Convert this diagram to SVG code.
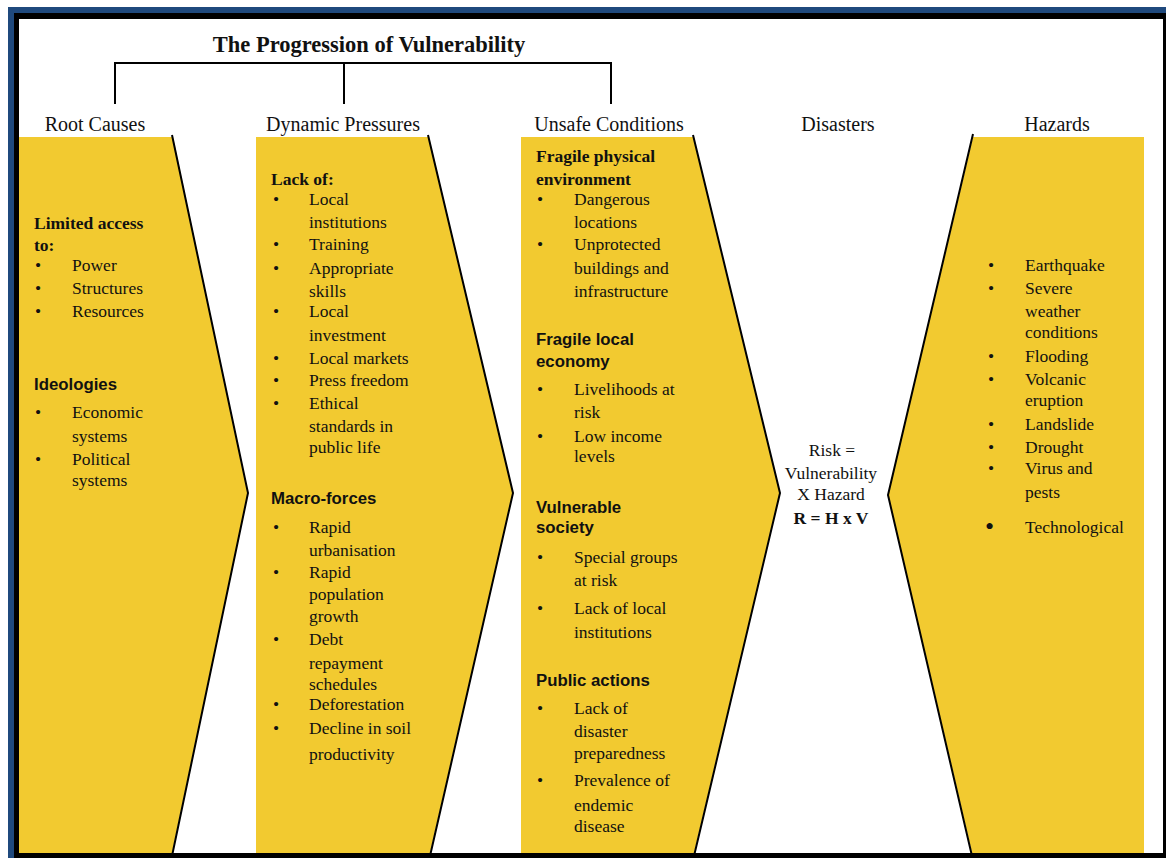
<svg xmlns="http://www.w3.org/2000/svg" width="1166" height="858" viewBox="0 0 1166 858">
<style>
.panel{fill:#F2CA30;stroke:none}
.edge{fill:none;stroke:#000;stroke-width:2;stroke-linejoin:miter}
.br{fill:none;stroke:#000;stroke-width:2}
.t{font-family:"Liberation Serif",serif;font-size:17.5px;fill:#111}
.hb{font-family:"Liberation Serif",serif;font-size:17.5px;font-weight:bold;fill:#111}
.ha{font-family:"Liberation Sans",Arial,sans-serif;font-size:16.8px;font-weight:bold;fill:#111}
.lab{font-family:"Liberation Serif",serif;font-size:20px;fill:#111;text-anchor:middle}
.title{font-family:"Liberation Serif",serif;font-size:22.5px;font-weight:bold;fill:#111;text-anchor:middle}
.c{text-anchor:middle}
</style>
<rect x="0" y="0" width="1166" height="858" fill="#fff"/>
<g id="frame">
<rect x="8" y="7" width="1158" height="6" fill="#1F497D"/>
<rect x="8" y="7" width="6" height="851" fill="#1F497D"/>
<rect x="14" y="13" width="1152" height="6" fill="#000"/>
<rect x="14" y="13" width="5" height="845" fill="#000"/>
<rect x="1163" y="13" width="3" height="845" fill="#000"/>
<rect x="14" y="853" width="1152" height="5" fill="#000"/>
</g>
<g id="title">
<text class="title" x="369" y="52">The Progression of Vulnerability</text>
</g>
<g id="connectors">
<polyline class="br" points="115,104 115,63 611,63 611,104"/>
<line class="br" x1="344" y1="63" x2="344" y2="104"/>
</g>
<g id="labels">
<text class="lab" x="95" y="131">Root Causes</text>
<text class="lab" x="343" y="131">Dynamic Pressures</text>
<text class="lab" x="609" y="131">Unsafe Conditions</text>
<text class="lab" x="838" y="131">Disasters</text>
<text class="lab" x="1057" y="131">Hazards</text>
</g>
<g id="root-causes">
<polygon class="panel" points="19,137 173,137 248,493 172,853 19,853"/>
<polyline class="edge" points="172,135 248,493 172,856"/>
<text class="hb" x="34" y="229">Limited access</text>
<text class="hb" x="34" y="251">to:</text>
<text class="t" x="35" y="271">•</text><text class="t" x="72" y="271">Power</text>
<text class="t" x="35" y="294">•</text><text class="t" x="72" y="294">Structures</text>
<text class="t" x="35" y="317">•</text><text class="t" x="72" y="317">Resources</text>
<text class="ha" x="34" y="390">Ideologies</text>
<text class="t" x="35" y="418">•</text><text class="t" x="72" y="418">Economic</text>
<text class="t" x="72" y="442">systems</text>
<text class="t" x="35" y="465">•</text><text class="t" x="72" y="465">Political</text>
<text class="t" x="72" y="486">systems</text>
</g>
<g id="dynamic-pressures">
<polygon class="panel" points="256,137 429,137 513,493 430,853 256,853"/>
<polyline class="edge" points="428,135 513,493 430,856"/>
<text class="hb" x="271" y="185">Lack of:</text>
<text class="t" x="273" y="205">•</text><text class="t" x="309" y="205">Local</text>
<text class="t" x="309" y="228">institutions</text>
<text class="t" x="273" y="250">•</text><text class="t" x="309" y="250">Training</text>
<text class="t" x="273" y="274">•</text><text class="t" x="309" y="274">Appropriate</text>
<text class="t" x="309" y="297">skills</text>
<text class="t" x="273" y="317">•</text><text class="t" x="309" y="317">Local</text>
<text class="t" x="309" y="341">investment</text>
<text class="t" x="273" y="364">•</text><text class="t" x="309" y="364">Local markets</text>
<text class="t" x="273" y="386">•</text><text class="t" x="309" y="386">Press freedom</text>
<text class="t" x="273" y="409">•</text><text class="t" x="309" y="409">Ethical</text>
<text class="t" x="309" y="432">standards in</text>
<text class="t" x="309" y="453">public life</text>
<text class="ha" x="271" y="504">Macro-forces</text>
<text class="t" x="273" y="533">•</text><text class="t" x="309" y="533">Rapid</text>
<text class="t" x="309" y="556">urbanisation</text>
<text class="t" x="273" y="578">•</text><text class="t" x="309" y="578">Rapid</text>
<text class="t" x="309" y="600">population</text>
<text class="t" x="309" y="622">growth</text>
<text class="t" x="273" y="645">•</text><text class="t" x="309" y="645">Debt</text>
<text class="t" x="309" y="669">repayment</text>
<text class="t" x="309" y="690">schedules</text>
<text class="t" x="273" y="710">•</text><text class="t" x="309" y="710">Deforestation</text>
<text class="t" x="273" y="734">•</text><text class="t" x="309" y="734">Decline in soil</text>
<text class="t" x="309" y="760">productivity</text>
</g>
<g id="unsafe-conditions">
<polygon class="panel" points="521,137 693,137 780,493 694,853 521,853"/>
<polyline class="edge" points="693,135 780,493 694,856"/>
<text class="hb" x="536" y="162">Fragile physical</text>
<text class="hb" x="536" y="185">environment</text>
<text class="t" x="537" y="205">•</text><text class="t" x="574" y="205">Dangerous</text>
<text class="t" x="574" y="228">locations</text>
<text class="t" x="537" y="250">•</text><text class="t" x="574" y="250">Unprotected</text>
<text class="t" x="574" y="274">buildings and</text>
<text class="t" x="574" y="297">infrastructure</text>
<text class="ha" x="536" y="345">Fragile local</text>
<text class="ha" x="536" y="367">economy</text>
<text class="t" x="537" y="395">•</text><text class="t" x="574" y="395">Livelihoods at</text>
<text class="t" x="574" y="418">risk</text>
<text class="t" x="537" y="442">•</text><text class="t" x="574" y="442">Low income</text>
<text class="t" x="574" y="462">levels</text>
<text class="ha" x="536" y="513">Vulnerable</text>
<text class="ha" x="536" y="533">society</text>
<text class="t" x="537" y="563">•</text><text class="t" x="574" y="563">Special groups</text>
<text class="t" x="574" y="586">at risk</text>
<text class="t" x="537" y="614">•</text><text class="t" x="574" y="614">Lack of local</text>
<text class="t" x="574" y="638">institutions</text>
<text class="ha" x="536" y="686">Public actions</text>
<text class="t" x="537" y="714">•</text><text class="t" x="574" y="714">Lack of</text>
<text class="t" x="574" y="737">disaster</text>
<text class="t" x="574" y="759">preparedness</text>
<text class="t" x="537" y="786">•</text><text class="t" x="574" y="786">Prevalence of</text>
<text class="t" x="574" y="811">endemic</text>
<text class="t" x="574" y="832">disease</text>
</g>
<g id="disasters">
<text class="t c" x="832" y="456">Risk =</text>
<text class="t c" x="831" y="479">Vulnerability</text>
<text class="t c" x="831" y="500">X Hazard</text>
<text class="hb c" x="831" y="524">R = H x V</text>
</g>
<g id="hazards">
<polygon class="panel" points="973,137 1144,137 1144,853 972,853 888,495"/>
<polyline class="edge" points="973,134 888,495 972,856"/>
<text class="t" x="988" y="271">•</text><text class="t" x="1025" y="271">Earthquake</text>
<text class="t" x="988" y="294">•</text><text class="t" x="1025" y="294">Severe</text>
<text class="t" x="1025" y="317">weather</text>
<text class="t" x="1025" y="338">conditions</text>
<text class="t" x="988" y="362">•</text><text class="t" x="1025" y="362">Flooding</text>
<text class="t" x="988" y="385">•</text><text class="t" x="1025" y="385">Volcanic</text>
<text class="t" x="1025" y="406">eruption</text>
<text class="t" x="988" y="430">•</text><text class="t" x="1025" y="430">Landslide</text>
<text class="t" x="988" y="453">•</text><text class="t" x="1025" y="453">Drought</text>
<text class="t" x="988" y="474">•</text><text class="t" x="1025" y="474">Virus and</text>
<text class="t" x="1025" y="498">pests</text>
<text class="t" x="985" y="535" style="font-size:26px">•</text><text class="t" x="1025" y="533">Technological</text>
</g>
</svg>
